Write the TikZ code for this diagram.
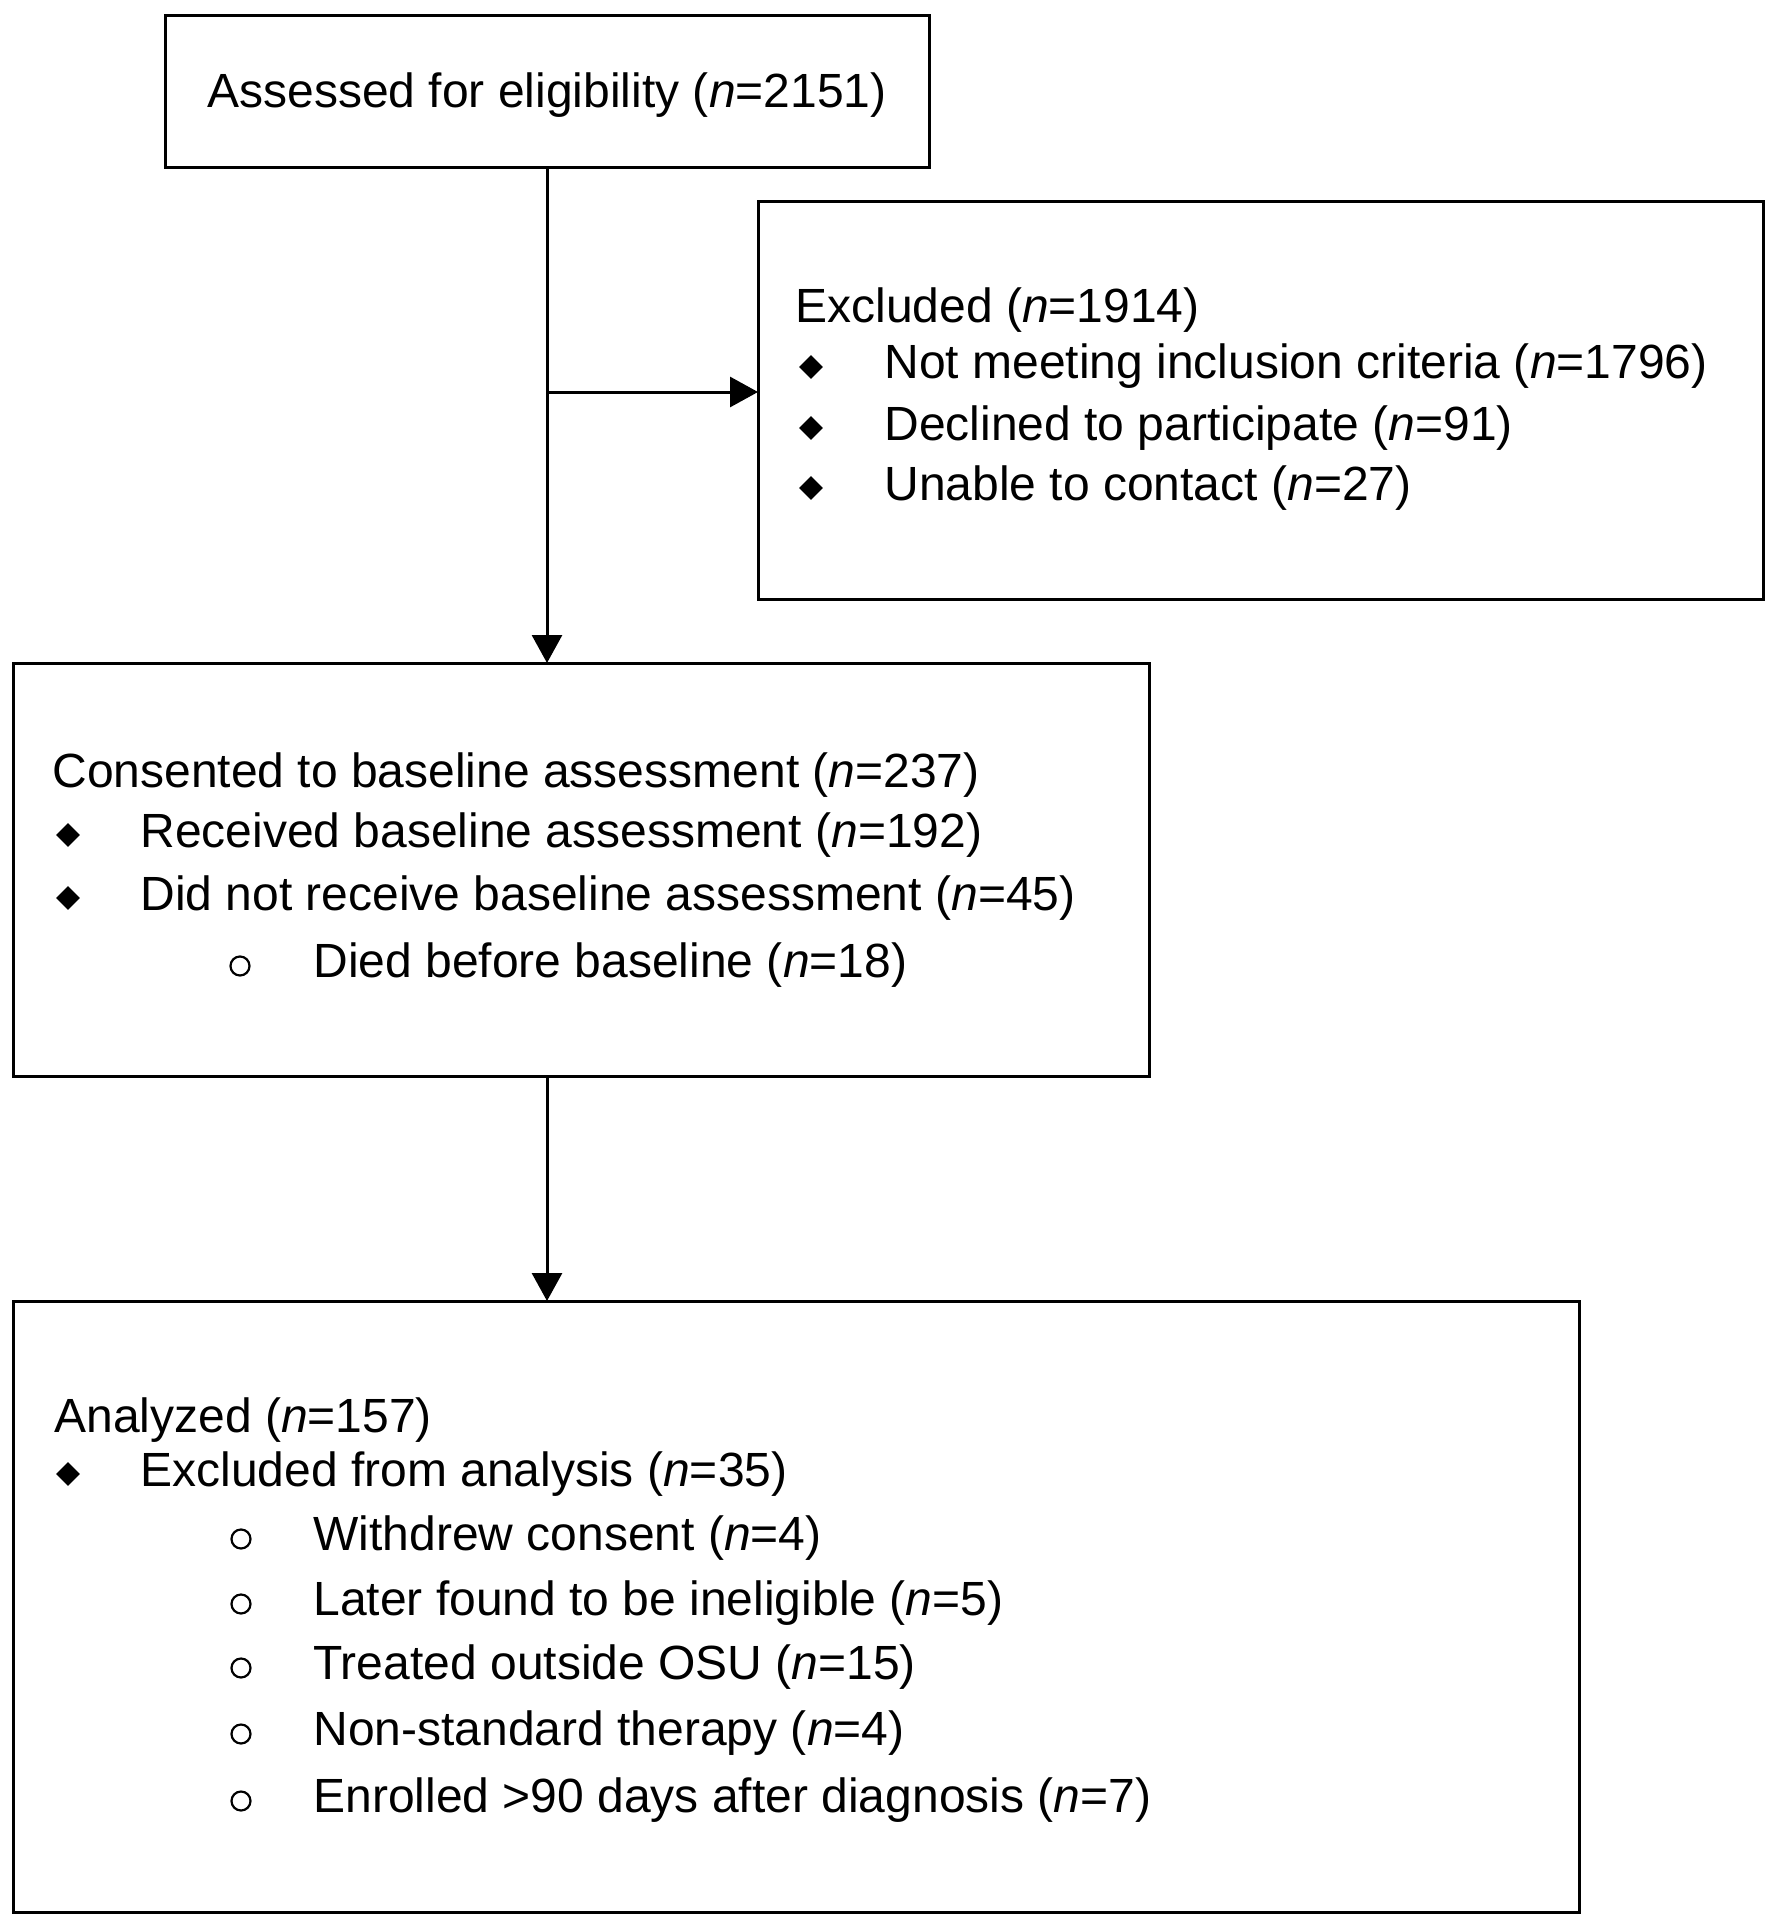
\documentclass[tikz,border=0pt]{standalone}
\usepackage{fontspec}
\setmainfont{Liberation Sans}
\usetikzlibrary{shapes.geometric, arrows.meta, positioning, calc}

\begin{document}
\begin{tikzpicture}[x=0.5pt, y=-0.5pt,
  box/.style={draw, line width=1.5pt, inner sep=0pt, outer sep=0pt},
  txt/.style={anchor=base west, inner sep=0pt, font=\fontsize{24}{30}\selectfont},
  dot/.style={diamond, fill=black, inner sep=0pt, minimum size=12pt},
  ring/.style={circle, draw, line width=1.1pt, inner sep=0pt, minimum size=9.5pt},
  arr/.style={line width=1.5pt, -{Triangle[length=14pt, width=15pt]}}]
\useasboundingbox (0,0) rectangle (1781,1920);

% Boxes
\node[box, minimum width=382pt, minimum height=76pt,
  text height=18pt, text depth=2pt,
  font=\fontsize{24}{30}\selectfont] (assess) at (547,92)
  {Assessed for eligibility (\textit{n}=2151)};
\node[box, minimum width=502.5pt, minimum height=198.5pt] (excl) at (1260.5,400.5) {};
\node[box, minimum width=568pt, minimum height=206.5pt] (consent) at (581,869.5) {};
\node[box, minimum width=783pt, minimum height=305.5pt] (analysed) at (796,1606.5) {};

% Excluded
\node[txt] (exclT) at (795,322) {Excluded (\textit{n}=1914)};
\node[dot] (exclD1) at (811,367) {};
\node[txt] (exclA) at (884,379) {Not meeting inclusion criteria (\textit{n}=1796)};
\node[dot] (exclD2) at (811,428) {};
\node[txt] (exclB) at (884,440) {Declined to participate (\textit{n}=91)};
\node[dot] (exclD3) at (811,488) {};
\node[txt] (exclC) at (884,500) {Unable to contact (\textit{n}=27)};

% Consented
\node[txt] (consT) at (52,787) {Consented to baseline assessment (\textit{n}=237)};
\node[dot] (consD1) at (68,835) {};
\node[txt] (consA) at (140,847) {Received baseline assessment (\textit{n}=192)};
\node[dot] (consD2) at (68,898) {};
\node[txt] (consB) at (140,910) {Did not receive baseline assessment (\textit{n}=45)};
\node[ring] (consR1) at (240,966) {};
\node[txt] (consC) at (313,977) {Died before baseline (\textit{n}=18)};

% Analyzed
\node[txt] (anaT) at (54,1432) {Analyzed (\textit{n}=157)};
\node[dot] (anaD1) at (68,1474) {};
\node[txt] (anaA) at (140,1486) {Excluded from analysis (\textit{n}=35)};
\node[ring] (anaR1) at (241,1539) {};
\node[txt] (anaB) at (313,1550) {Withdrew consent (\textit{n}=4)};
\node[ring] (anaR2) at (241,1604) {};
\node[txt] (anaC) at (313,1615) {Later found to be ineligible (\textit{n}=5)};
\node[ring] (anaR3) at (241,1668) {};
\node[txt] (anaD) at (313,1679) {Treated outside OSU (\textit{n}=15)};
\node[ring] (anaR4) at (241,1734) {};
\node[txt] (anaE) at (313,1745) {Non-standard therapy (\textit{n}=4)};
\node[ring] (anaR5) at (241,1801) {};
\node[txt] (anaF) at (313,1812) {Enrolled >90 days after diagnosis (\textit{n}=7)};

% Connectors
\coordinate (branch) at (548,392);
\draw[arr] (assess.south) -- (assess.south |- consent.north);
\draw[arr] (branch) -- (branch -| excl.west);
\draw[arr] (assess.south |- consent.south) -- (assess.south |- analysed.north);
\end{tikzpicture}
\end{document}
